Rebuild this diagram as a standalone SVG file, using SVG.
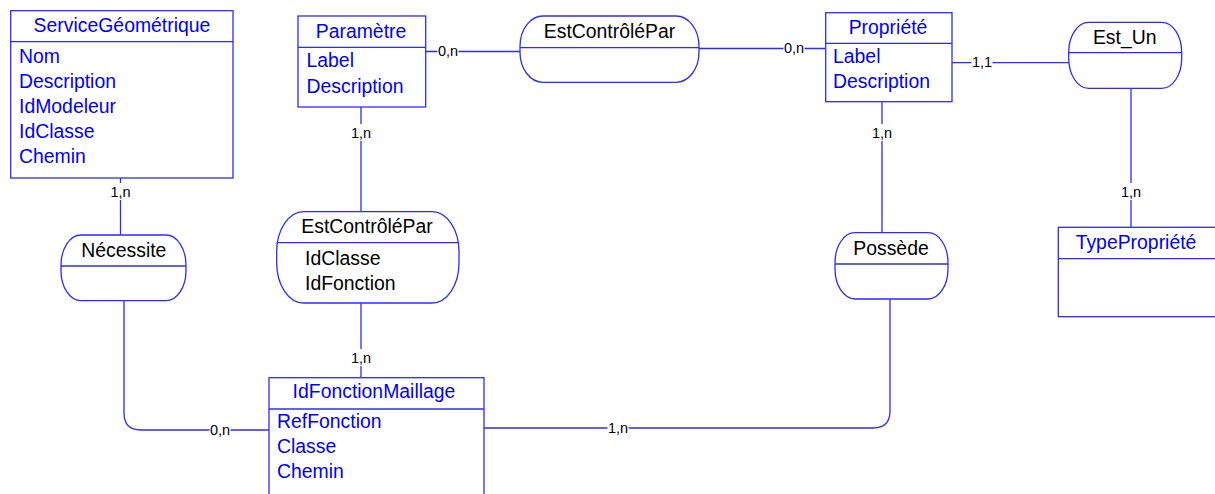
<svg xmlns="http://www.w3.org/2000/svg" width="1215" height="494" viewBox="0 0 1215 494">
  <style>
    .box { fill: #ffffff; stroke: #2b2bff; stroke-width: 1.3; }
    .sep { stroke: #2b2bff; stroke-width: 1.3; fill: none; }
    .link { stroke: #2b2bff; stroke-width: 1.3; fill: none; }
    .gap { fill: #ffffff; stroke: none; }
    .ent { font-family: "Liberation Sans", Arial, sans-serif; font-size: 19.4px; fill: #0000ff; }
    .rel { font-family: "Liberation Sans", Arial, sans-serif; font-size: 19.4px; fill: #000000; }
    .card { font-family: "Liberation Sans", Arial, sans-serif; font-size: 14.5px; fill: #000000; text-anchor: middle; }
    .mid { text-anchor: middle; }
  </style>

  <!-- connectors; each cardinality sits on a white patch that cuts its line -->
  <g id="connectors">
    <path class="link" d="M120.5,178 V235"/>
    <rect class="gap" x="110" y="183" width="21" height="17"/>
    <text class="card" x="120.5" y="196.5">1,n</text>

    <path class="link" d="M124,301 V413 Q124,430 141,430 H269"/>
    <rect class="gap" x="209.5" y="424" width="21" height="12"/>
    <text class="card" x="220" y="435">0,n</text>

    <path class="link" d="M361,107 V212"/>
    <rect class="gap" x="350.5" y="124" width="21" height="17"/>
    <text class="card" x="361" y="138">1,n</text>

    <path class="link" d="M361,303 V378"/>
    <rect class="gap" x="350.5" y="349" width="21" height="17"/>
    <text class="card" x="361" y="363">1,n</text>

    <path class="link" d="M484,428 H873 Q890,428 890,411 V299"/>
    <rect class="gap" x="607.5" y="422" width="21" height="12"/>
    <text class="card" x="618" y="433">1,n</text>

    <path class="link" d="M882,102 V233"/>
    <rect class="gap" x="871.5" y="124" width="21" height="17"/>
    <text class="card" x="882" y="138">1,n</text>

    <path class="link" d="M426,51.5 H520"/>
    <rect class="gap" x="437.5" y="45" width="21" height="12"/>
    <text class="card" x="448" y="56">0,n</text>

    <path class="link" d="M699,48.5 H826"/>
    <rect class="gap" x="783.5" y="42" width="21" height="12"/>
    <text class="card" x="794" y="53">0,n</text>

    <path class="link" d="M952,62.7 H1069"/>
    <rect class="gap" x="971.5" y="56" width="21" height="12"/>
    <text class="card" x="982" y="67">1,1</text>

    <path class="link" d="M1131,88 V227"/>
    <rect class="gap" x="1120.5" y="183" width="21" height="17"/>
    <text class="card" x="1131" y="197">1,n</text>
  </g>

  <!-- entities -->
  <g id="service-geometrique">
    <rect class="box" x="10.7" y="10.7" width="222.3" height="167.3"/>
    <line class="sep" x1="10.7" y1="41.7" x2="233" y2="41.7"/>
    <text class="ent mid" x="122" y="32">ServiceGéométrique</text>
    <text class="ent" x="19" y="62.5">Nom</text>
    <text class="ent" x="19" y="87.5">Description</text>
    <text class="ent" x="19" y="112.5">IdModeleur</text>
    <text class="ent" x="19" y="137.5">IdClasse</text>
    <text class="ent" x="19" y="162.5">Chemin</text>
  </g>

  <g id="parametre">
    <rect class="box" x="298" y="16" width="127.7" height="91"/>
    <line class="sep" x1="298" y1="47.3" x2="425.7" y2="47.3"/>
    <text class="ent mid" x="361" y="37.7">Paramètre</text>
    <text class="ent" x="306.5" y="66.5">Label</text>
    <text class="ent" x="306.5" y="92.5">Description</text>
  </g>

  <g id="propriete">
    <rect class="box" x="825.7" y="12.7" width="126.3" height="89"/>
    <line class="sep" x1="825.7" y1="43.3" x2="952" y2="43.3"/>
    <text class="ent mid" x="888" y="34.3">Propriété</text>
    <text class="ent" x="833" y="63.3">Label</text>
    <text class="ent" x="833" y="88.3">Description</text>
  </g>

  <g id="type-propriete">
    <rect class="box" x="1058.3" y="227.3" width="180" height="89.4"/>
    <line class="sep" x1="1058.3" y1="258.7" x2="1238.3" y2="258.7"/>
    <text class="ent mid" x="1136" y="249">TypePropriété</text>
  </g>

  <g id="id-fonction-maillage">
    <rect class="box" x="269" y="377.7" width="215" height="130"/>
    <line class="sep" x1="269" y1="409" x2="484" y2="409"/>
    <text class="ent mid" x="374" y="398">IdFonctionMaillage</text>
    <text class="ent" x="277" y="428">RefFonction</text>
    <text class="ent" x="277" y="453">Classe</text>
    <text class="ent" x="277" y="478">Chemin</text>
  </g>

  <!-- associations -->
  <g id="est-controle-par-haut">
    <rect class="box" x="520" y="16" width="179" height="66.3" rx="23" ry="30"/>
    <line class="sep" x1="520" y1="47.7" x2="699" y2="47.7"/>
    <text class="rel mid" x="609.5" y="37.7">EstContrôléPar</text>
  </g>

  <g id="est-un">
    <rect class="box" x="1068.7" y="22.3" width="113" height="66" rx="20" ry="30"/>
    <line class="sep" x1="1068.7" y1="52.7" x2="1181.7" y2="52.7"/>
    <text class="rel mid" x="1124.7" y="44">Est_Un</text>
  </g>

  <g id="necessite">
    <rect class="box" x="61" y="235" width="125" height="65.7" rx="20" ry="30"/>
    <line class="sep" x1="61" y1="266" x2="186" y2="266"/>
    <text class="rel mid" x="123.8" y="256.7">Nécessite</text>
  </g>

  <g id="est-controle-par-centre">
    <rect class="box" x="276.7" y="211.7" width="182.3" height="91.3" rx="27" ry="40"/>
    <line class="sep" x1="276.7" y1="242.7" x2="459" y2="242.7"/>
    <text class="rel mid" x="367" y="233">EstContrôléPar</text>
    <text class="rel" x="305" y="265">IdClasse</text>
    <text class="rel" x="305" y="290">IdFonction</text>
  </g>

  <g id="possede">
    <rect class="box" x="835" y="232.7" width="113" height="66.3" rx="20" ry="30"/>
    <line class="sep" x1="835" y1="264" x2="948" y2="264"/>
    <text class="rel mid" x="891" y="255">Possède</text>
  </g>
</svg>
